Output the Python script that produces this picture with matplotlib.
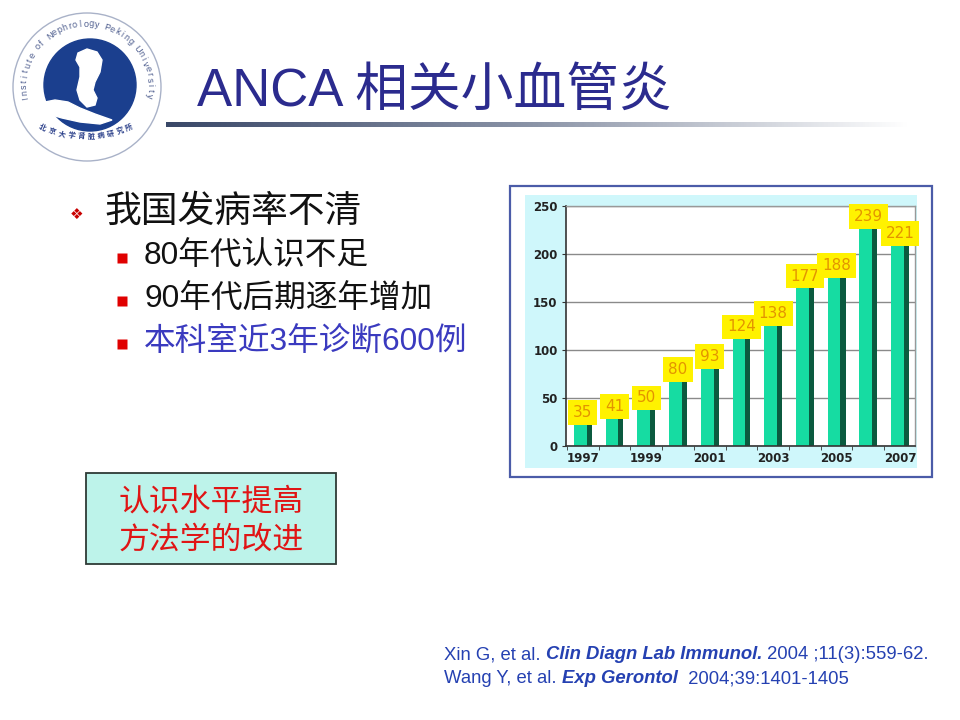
import numpy as np
import matplotlib
matplotlib.use("Agg")
import matplotlib.pyplot as plt
from matplotlib.patches import Rectangle, Circle, Polygon

# ---------------- data ----------------
years = ["1997", "1998", "1999", "2000", "2001", "2002", "2003", "2004", "2005", "2006", "2007"]
cases = [35, 41, 50, 80, 93, 124, 138, 177, 188, 239, 221]
yticks = [0, 50, 100, 150, 200, 250]

title = "ANCA 相关小血管炎"
bullet_main = "我国发病率不清"
bullet_subs = ["80年代认识不足", "90年代后期逐年增加", "本科室近3年诊断600例"]
box_lines = ["认识水平提高", "方法学的改进"]
ref1 = [("Xin G, et al. ", "normal"), ("Clin Diagn Lab Immunol.", "bi"), (" 2004 ;11(3):559-62.", "normal")]
ref2 = [("Wang Y, et al. ", "normal"), ("Exp Gerontol", "bi"), ("  2004;39:1401-1405", "normal")]
logo_text = "Institute of Nephrology Peking University"
logo_cn = "北京大学肾脏病研究所"

FAM = ["Liberation Sans", "Noto Sans CJK SC", "DejaVu Sans"]
CJK = ["Noto Sans CJK SC", "DejaVu Sans"]

fig = plt.figure(figsize=(9.6, 7.2), dpi=100)
fig.patch.set_facecolor("white")
bg = fig.add_axes([0, 0, 1, 1])
bg.set_xlim(0, 960)
bg.set_ylim(720, 0)
bg.axis("off")

# ---------------- logo ----------------
cx, cy = 87, 87
bg.add_patch(Circle((cx, cy), 74, fill=False, ec="#A9B2C8", lw=1.0))
bg.add_patch(Circle((90, 85), 46, color="#1B3F8E"))
bg.add_patch(Polygon([(78, 53), (87, 49), (97, 52), (102, 60), (100, 72), (95, 82), (93, 90),
                      (97, 98), (95, 105), (87, 107), (80, 100), (77, 90), (80, 77), (80, 67),
                      (76, 60)], closed=True, color="white"))
bg.add_patch(Polygon([(37, 109), (45, 102), (55, 100), (68, 102), (80, 108), (95, 114),
                      (112, 120), (100, 124), (80, 122), (62, 118), (48, 114)],
                     closed=True, color="white"))
n = len(logo_text)
angs = np.linspace(190, -8, n)
for ch, a in zip(logo_text, angs):
    t = np.deg2rad(a)
    bg.text(cx + 63 * np.cos(t), cy - 63 * np.sin(t), ch, rotation=a - 90,
            ha="center", va="center", fontsize=6.5, color="#4A5A8C",
            family=["Liberation Sans", "DejaVu Sans"], rotation_mode="anchor")
m = len(logo_cn)
angs2 = np.linspace(247, 293, m)
for ch, a in zip(logo_cn, angs2):
    t = np.deg2rad(a)
    bg.text(86 + 110 * np.cos(t), 26 - 110 * np.sin(t), ch, rotation=a - 270,
            ha="center", va="center", fontsize=5.2, color="#2A3F8A",
            family=CJK, rotation_mode="anchor", fontweight="bold")

# ---------------- title ----------------
bg.text(197, 106, title, fontsize=38, color="#2B2B8E", family=FAM, va="baseline", ha="left")
grad = np.linspace(0, 1, 400)[None, :]
cmap = matplotlib.colors.LinearSegmentedColormap.from_list("g", ["#3A4868", "#8C95A8", "#FFFFFF"])
bg.imshow(grad, extent=(166, 910, 127, 122), cmap=cmap, aspect="auto", zorder=1)
bg.set_xlim(0, 960)
bg.set_ylim(720, 0)

# ---------------- bullets ----------------
bg.text(77, 214, "❖", fontsize=11, color="#C80000", ha="center", va="center", family=["DejaVu Sans"])
bg.text(104, 212, bullet_main, fontsize=26.5, color="#111111", family=FAM, ha="left", va="center")
sub_y = [256, 299, 342]
sub_c = ["#111111", "#111111", "#3A3ABF"]
for s, y, c in zip(bullet_subs, sub_y, sub_c):
    bg.plot([122], [y + 2], marker="s", ms=6.5, color="#E00000", mec="none")
    bg.text(144, y, s, fontsize=22.8, color=c, family=FAM, ha="left", va="center")

# ---------------- box ----------------
bg.add_patch(Rectangle((86, 473), 250, 91, fc="#BDF3EA", ec="#2E3A36", lw=1.3))
for s, y in zip(box_lines, [502, 540]):
    bg.text(211, y, s, fontsize=22.2, color="#E01515", family=CJK, ha="center", va="center")

# ---------------- references ----------------
renderer = fig.canvas.get_renderer()

def seg_width(s, **kw):
    t1 = bg.text(0, 0, "|" + s + "|", **kw)
    t2 = bg.text(0, 0, "||", **kw)
    w = t1.get_window_extent(renderer).width - t2.get_window_extent(renderer).width
    t1.remove(); t2.remove()
    return w

def draw_ref(segs, x0, y):
    x = x0
    for s, st in segs:
        kw = dict(fontsize=13.3, color="#2541B2", family=["Liberation Sans", "DejaVu Sans"],
                  va="baseline", ha="left")
        if st == "bi":
            kw.update(fontweight="bold", fontstyle="italic")
        bg.text(x, y, s, **kw)
        x += seg_width(s, **kw)

draw_ref(ref1, 444, 659)
draw_ref(ref2, 444, 683)

# ---------------- chart frame ----------------
bg.add_patch(Rectangle((510, 186), 422, 291, fc="white", ec="#4B5CA8", lw=1.6))
bg.add_patch(Rectangle((525, 195), 392, 273, fc="#CFF7FB", ec="none"))

ax = fig.add_axes([566 / 960, 1 - 446 / 720, 349 / 960, 240 / 720])
ax.set_facecolor("white")
x = np.arange(len(years))
ax.bar(x - 0.28, cases, width=0.40, align="edge", color="#16DCA2", zorder=2)
ax.bar(x + 0.12, cases, width=0.16, align="edge", color="#0B5A3F", zorder=2)
ax.set_xlim(-0.53, 10.47)
ax.set_ylim(0, 250)
ax.set_yticks(yticks)
ax.set_yticklabels([str(v) for v in yticks], fontsize=8.5, fontweight="bold", color="#222222",
                   family="DejaVu Sans")
ax.set_xticks(x[::2])
ax.set_xticklabels(years[::2], fontsize=8.5, fontweight="bold", color="#222222", family="DejaVu Sans")
ax.set_xticks(np.arange(-0.5, 10.5, 1), minor=True)
ax.tick_params(axis="x", which="major", length=0, pad=4)
ax.tick_params(axis="x", which="minor", length=3, color="#333333")
ax.tick_params(axis="y", length=3, color="#333333", pad=3)
ax.yaxis.grid(True, color="#8A8A8A", lw=1.0, zorder=0)
ax.set_axisbelow(True)
for side in ["left", "bottom"]:
    ax.spines[side].set_color("#333333")
    ax.spines[side].set_linewidth(1.2)
for side in ["right", "top"]:
    ax.spines[side].set_color("#999999")
    ax.spines[side].set_linewidth(1.0)

for i, v in enumerate(cases):
    ax.text(i, v, str(v), ha="center", va="center", fontsize=11, color="#E39400",
            family="DejaVu Sans", zorder=5 + i, clip_on=False,
            bbox=dict(boxstyle="square,pad=0.32", fc="#FFF200", ec="none"))

fig.savefig("out.png", dpi=100, facecolor="white")
